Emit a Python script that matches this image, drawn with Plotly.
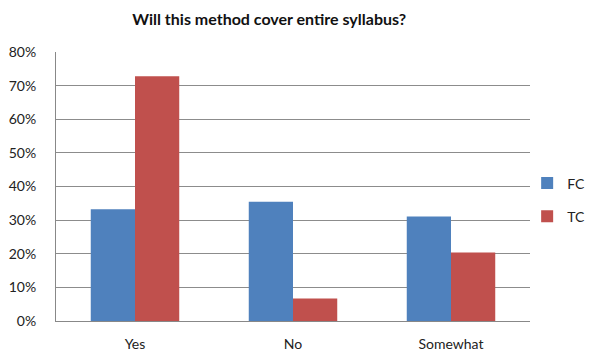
import plotly.graph_objects as go

categories = ["Yes", "No", "Somewhat"]
fc_values = [0.332, 0.355, 0.311]
tc_values = [0.728, 0.067, 0.204]
series_names = ["FC", "TC"]
tick_vals = [0, 0.1, 0.2, 0.3, 0.4, 0.5, 0.6, 0.7, 0.8]
tick_text = ["0%", "10%", "20%", "30%", "40%", "50%", "60%", "70%", "80%"]

fig = go.Figure()
fig.add_trace(go.Bar(x=categories, y=fc_values, name=series_names[0],
                     marker=dict(color="#4F81BD", line=dict(width=0)),
                     legendgroup="a"))
fig.add_trace(go.Bar(x=categories, y=tc_values, name=series_names[1],
                     marker=dict(color="#C0504D", line=dict(width=0)),
                     legendgroup="b"))

fig.update_layout(
    width=589, height=354,
    margin=dict(l=56, r=59, t=52, b=33, autoexpand=False),
    paper_bgcolor="white", plot_bgcolor="white",
    font=dict(family="Lato, Open Sans, Arial", size=14, color="#222"),
    title=dict(text="<b>Will this method cover entire syllabus?</b>",
               x=0.457, xanchor="center", y=0.945, yanchor="middle",
               font=dict(size=16, color="#111")),
    barmode="group", bargap=0.44, bargroupgap=0,
    showlegend=True,
    legend=dict(x=0.994, xanchor="left", y=0.45, yanchor="middle",
                tracegroupgap=12, font=dict(size=14),
                itemwidth=30, traceorder="grouped",
                bgcolor="rgba(0,0,0,0)"),
    xaxis=dict(showline=True, linecolor="#888", linewidth=1,
               ticks="", tickfont=dict(size=14), ticklabelstandoff=10,
               automargin=False),
    yaxis=dict(range=[0, 0.8], tickvals=tick_vals, ticktext=tick_text,
               showgrid=True, gridcolor="#8c8c8c", gridwidth=1,
               showline=True, linecolor="#888", linewidth=1,
               zeroline=False, ticks="", ticklabelstandoff=16,
               tickfont=dict(size=14), automargin=False),
)
fig.write_html("out.html")
